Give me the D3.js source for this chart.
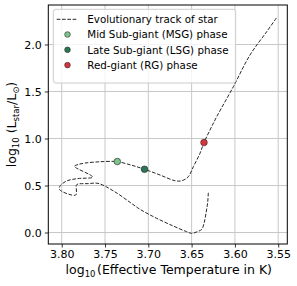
<!DOCTYPE html>
<html>
<head>
<meta charset="utf-8">
<script src="https://cdn.jsdelivr.net/npm/d3@7"></script>
<style>
  body { margin: 0; background: #fff; }
  text { font-family: "DejaVu Sans", sans-serif; fill: #000; }
</style>
</head>
<body>
<div id="chart"></div>
<script>
// evolutionary track (log Teff, log L)
var trackTeff = [3.6307, 3.6314, 3.6334, 3.6357, 3.6383, 3.6434, 3.6499, 3.6557, 3.6711, 3.6903,
                 3.7096, 3.7196, 3.7388, 3.7581, 3.7696, 3.7812, 3.7831, 3.7838, 3.8023, 3.8023,
                 3.7945, 3.7812, 3.7642, 3.7852, 3.7812, 3.7731, 3.7558, 3.7408, 3.7358, 3.7200,
                 3.7044, 3.6865, 3.6692, 3.6614, 3.6538, 3.6480, 3.6403, 3.6357, 3.6288, 3.6210,
                 3.6018, 3.5826, 3.5633, 3.5510];
var trackLum  = [0.423, 0.328, 0.204, 0.098, 0.034, 0.009, -0.009, 0.009, 0.069, 0.151,
                 0.247, 0.311, 0.434, 0.523, 0.520, 0.516, 0.505, 0.399, 0.455, 0.489,
                 0.548, 0.574, 0.590, 0.704, 0.723, 0.739, 0.753, 0.757, 0.755, 0.718,
                 0.673, 0.612, 0.551, 0.551, 0.594, 0.700, 0.843, 0.957, 1.090, 1.232,
                 1.551, 1.888, 2.136, 2.296];

var phaseNames = ["Mid Sub-giant (MSG) phase", "Late Sub-giant (LSG) phase", "Red-giant (RG) phase"];
var phaseTeff  = [3.7358, 3.7044, 3.6357];
var phaseLum   = [0.755, 0.673, 0.957];
var phaseColors = ["#7cc48c", "#2c7656", "#d8343c"];

var xTicks = [3.80, 3.75, 3.70, 3.65, 3.60, 3.55];
var yTicks = [0.0, 0.5, 1.0, 1.5, 2.0];

var W = 297, H = 286;
var m = {left: 48.3, right: 287.3, top: 5, bottom: 244};

var svg = d3.select("#chart").append("svg")
    .attr("width", W).attr("height", H);

// x axis reversed, hotter to the left
var x = d3.scaleLinear().domain([3.8155, 3.5395]).range([m.left, m.right]);
var y = d3.scaleLinear().domain([-0.122, 2.420]).range([m.bottom, m.top]);

// grid
svg.append("g").selectAll("line.gx").data(xTicks).enter().append("line")
    .attr("x1", d => x(d)).attr("x2", d => x(d))
    .attr("y1", m.top).attr("y2", m.bottom)
    .style("stroke", "#c8c8c8").style("stroke-width", 1);
svg.append("g").selectAll("line.gy").data(yTicks).enter().append("line")
    .attr("x1", m.left).attr("x2", m.right)
    .attr("y1", d => y(d)).attr("y2", d => y(d))
    .style("stroke", "#c8c8c8").style("stroke-width", 1);

// track
var pts = trackTeff.map((t, i) => [t, trackLum[i]]);
var line = d3.line().x(d => x(d[0])).y(d => y(d[1]))
    .curve(d3.curveCatmullRom.alpha(0.5));
svg.append("path").datum(pts)
    .attr("d", line)
    .style("fill", "none")
    .style("stroke", "#2a2a2a")
    .style("stroke-width", 1)
    .style("stroke-dasharray", "3.7,1.6");

// phase markers
svg.append("g").selectAll("circle").data(phaseTeff).enter().append("circle")
    .attr("cx", d => x(d))
    .attr("cy", (d, i) => y(phaseLum[i]))
    .attr("r", 3.3)
    .style("fill", (d, i) => phaseColors[i])
    .style("stroke", "#222")
    .style("stroke-width", 0.6);

// axes
var xAxis = d3.axisBottom(x).tickValues(xTicks).tickFormat(d3.format(".2f")).tickSize(3.5).tickPadding(3);
var yAxis = d3.axisLeft(y).tickValues(yTicks).tickFormat(d3.format(".1f")).tickSize(3.5).tickPadding(3);

var gx = svg.append("g").attr("transform", "translate(0," + m.bottom + ")").call(xAxis);
var gy = svg.append("g").attr("transform", "translate(" + m.left + ",0)").call(yAxis);
[gx, gy].forEach(function(g){
    g.select(".domain").remove();
    g.selectAll("text").style("font-size", "11px").style("font-family", "DejaVu Sans").style("fill", "#000");
    g.selectAll(".tick line").style("stroke", "#000").style("stroke-width", 0.8);
});

// frame
svg.append("rect")
    .attr("x", m.left).attr("y", m.top)
    .attr("width", m.right - m.left).attr("height", m.bottom - m.top)
    .style("fill", "none").style("stroke", "#000").style("stroke-width", 1);

// axis labels
var xl = svg.append("text")
    .attr("x", (m.left + m.right) / 2 + 1).attr("y", 273.5)
    .attr("text-anchor", "middle")
    .style("font-size", "12.5px");
xl.append("tspan").text("log");
xl.append("tspan").attr("dy", 3).style("font-size", "8.5px").text("10");
xl.append("tspan").attr("dy", -3).attr("dx", 1.5).text("(Effective Temperature in K)");

var yl = svg.append("text")
    .attr("transform", "translate(16," + ((m.top + m.bottom) / 2) + ") rotate(-90)")
    .attr("text-anchor", "middle")
    .style("font-size", "12.5px");
yl.append("tspan").text("log");
yl.append("tspan").attr("dy", 3).style("font-size", "8.5px").text("10");
yl.append("tspan").attr("dy", -3).text(" (L");
yl.append("tspan").attr("dy", 3).style("font-size", "8.5px").text("star");
yl.append("tspan").attr("dy", -3).text("/L");
yl.append("tspan").attr("dy", 3).style("font-size", "8.5px").text("\u2299");
yl.append("tspan").attr("dy", -3).text(")");

// legend
var lg = svg.append("g");
lg.append("rect")
    .attr("x", 53.3).attr("y", 9.3).attr("width", 182.4).attr("height", 73.7)
    .attr("rx", 2.5)
    .style("fill", "#fff").style("fill-opacity", 0.8)
    .style("stroke", "#cccccc").style("stroke-width", 1);

var rowY = [19.3, 34.5, 49.8, 65.1];
lg.append("line")
    .attr("x1", 56.7).attr("x2", 77.7).attr("y1", rowY[0]).attr("y2", rowY[0])
    .style("stroke", "#2a2a2a").style("stroke-width", 1).style("stroke-dasharray", "3.7,1.6");
lg.append("text").attr("x", 87.3).attr("y", rowY[0] + 3.7)
    .style("font-size", "10.3px").text("Evolutionary track of star");

phaseNames.forEach(function(name, i){
    lg.append("circle")
        .attr("cx", 67.5).attr("cy", rowY[i + 1]).attr("r", 2.8)
        .style("fill", phaseColors[i]).style("stroke", "#222").style("stroke-width", 0.6);
    lg.append("text").attr("x", 87.3).attr("y", rowY[i + 1] + 3.7)
        .style("font-size", "10.3px").text(name);
});
</script>
</body>
</html>
